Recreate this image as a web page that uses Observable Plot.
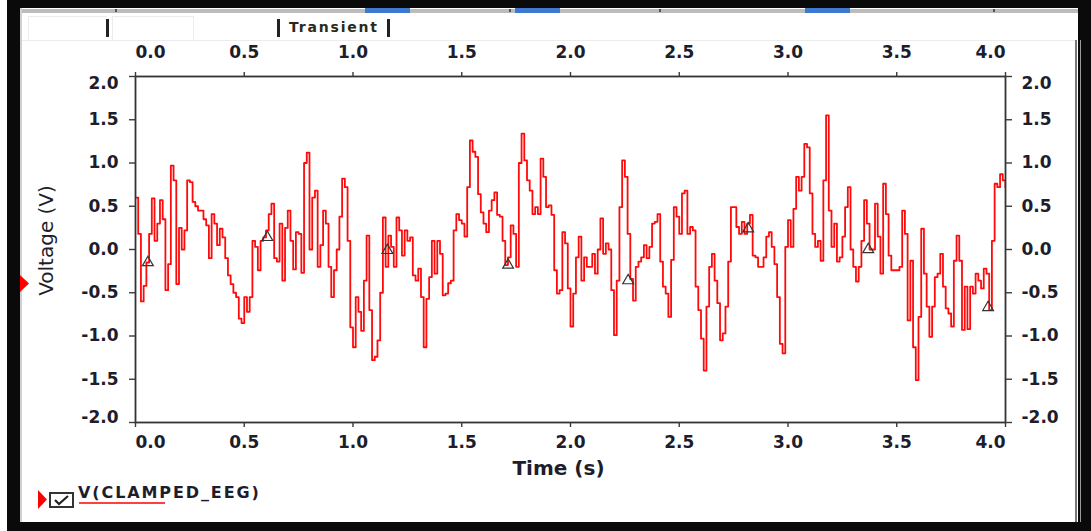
<!DOCTYPE html>
<html>
<head>
<meta charset="utf-8">
<script src="https://cdn.jsdelivr.net/npm/d3@7"></script>
<script src="https://cdn.jsdelivr.net/npm/@observablehq/plot@0.6"></script>
<style>
  html, body { margin: 0; padding: 0; background: #fff; }
  #wrap { position: relative; width: 1091px; height: 531px; overflow: hidden; background: #fff; font-family: "DejaVu Sans", sans-serif; }
  #wrap > svg.plot { position: absolute; left: 0; top: 0; }
  .abs { position: absolute; }
</style>
</head>
<body>
<div id="wrap"></div>
<script>
// ---------------- data ----------------
const sampleStep = 0.0125; // seconds between samples (uniform grid)
const voltage = [
  0.60, 0.18, -0.60, -0.42, -0.15, 0.18, 0.59, 0.10, 0.30, 0.57,
  0.35, -0.47, -0.17, 0.97, 0.80, -0.40, 0.25, 0.00, 0.22, 0.80,
  0.78, 0.55, 0.50, 0.45, 0.45, 0.35, 0.28, -0.10, 0.41, 0.30,
  0.05, 0.24, 0.14, -0.10, -0.30, -0.40, -0.50, -0.55, -0.80, -0.85,
  -0.55, -0.72, -0.55, 0.10, 0.03, -0.24, 0.10, 0.14, 0.22, 0.41,
  0.53, -0.10, -0.14, 0.30, -0.36, 0.25, 0.45, 0.10, -0.23, 0.20,
  0.18, -0.27, 1.00, 1.12, 0.00, 0.60, 0.68, -0.20, 0.05, 0.45,
  0.30, -0.20, -0.55, -0.24, 0.00, 0.38, 0.82, 0.72, 0.10, -0.90,
  -1.13, -0.55, -0.72, -0.94, -0.36, 0.16, -0.70, -1.28, -1.24, -1.05,
  -0.50, 0.37, -0.20, 0.16, 0.03, -0.20, 0.37, 0.22, -0.07, 0.22,
  0.10, 0.14, -0.30, -0.36, -0.22, -0.55, -1.13, -0.57, -0.32, 0.10,
  -0.28, 0.10, -0.05, -0.53, -0.51, -0.39, -0.36, 0.22, 0.41, 0.34,
  0.30, 0.15, 0.72, 1.26, 1.13, 1.07, 0.64, 0.43, 0.30, 0.20,
  0.45, 0.57, 0.66, 0.40, 0.38, 0.10, -0.18, -0.09, 0.28, 0.18,
  -0.20, 1.00, 1.34, 1.03, 0.80, 0.68, 0.41, 0.49, 0.41, 1.05,
  0.84, 0.49, 0.51, 0.40, -0.24, -0.51, -0.47, 0.20, 0.07, -0.45,
  -0.89, -0.51, -0.09, 0.15, -0.36, -0.09, -0.20, -0.20, -0.05, -0.28,
  0.00, 0.36, -0.05, 0.07, 0.00, -0.47, -0.99, -0.36, 0.49, 1.03,
  0.84, 0.18, -0.34, -0.59, -0.20, -0.14, -0.09, 0.05, -0.10, 0.03,
  0.30, 0.32, 0.41, -0.14, -0.43, -0.51, -0.78, -0.12, 0.49, 0.38,
  0.18, 0.65, 0.68, 0.18, 0.26, 0.22, -0.43, -0.70, -1.03, -1.40,
  -0.66, -0.20, -0.05, -0.36, -0.62, -1.05, -0.97, -0.66, -0.14, 0.49,
  0.49, 0.26, 0.18, 0.32, 0.18, 0.30, 0.40, -0.07, -0.09, -0.20,
  -0.20, -0.09, 0.15, 0.20, 0.03, -0.17, -0.55, -1.09, -1.20, 0.03,
  0.34, 0.03, 0.47, 0.84, 0.68, 0.84, 1.22, 1.18, 0.65, 0.18,
  0.03, 0.10, -0.13, 0.80, 1.55, 0.45, 0.03, 0.30, -0.14, -0.09,
  0.15, 0.49, 0.72, 0.00, -0.20, -0.37, -0.20, 0.10, 0.57, 0.30,
  0.00, 0.00, 0.53, 0.15, -0.28, 0.76, 0.41, -0.07, -0.24, -0.24,
  -0.24, -0.20, 0.45, 0.18, -0.82, -0.13, -1.13, -1.51, -0.78, 0.24,
  -0.28, -0.66, -1.01, -0.66, -0.32, -0.28, -0.05, -0.43, -0.68, -0.74,
  -0.89, -0.13, 0.16, -0.13, -0.93, -0.43, -0.92, -0.43, -0.51, -0.28,
  -0.36, -0.45, -0.22, -0.28, -0.70, 0.10, 0.76, 0.72, 0.87, 0.80,
  0.72
];
const markerTime    = [0.057, 0.606, 1.158, 1.713, 2.265, 2.817, 3.369, 3.920];
const markerVoltage = [-0.15, 0.14, -0.01, -0.18, -0.36, 0.24, 0.00, -0.67];
const xTicks = [0, 0.5, 1.0, 1.5, 2.0, 2.5, 3.0, 3.5, 4.0];
const yTicks = [-2.0, -1.5, -1.0, -0.5, 0.0, 0.5, 1.0, 1.5, 2.0];
const xLabel = "Time (s)";
const yLabel = "Voltage (V)";
const legendLabel = "V(CLAMPED_EEG)";
const tabLabels = ["", "", "Transient"];

// ---------------- chart ----------------
const samples = voltage.map((v, i) => ({t: i * sampleStep, v}));
const markers = markerTime.map((t, i) => ({t, v: markerVoltage[i]}));
const fmt = d => d.toFixed(1);
const font = "DejaVu Sans, sans-serif";
const tickText = {fontSize: 17, fontWeight: "bold", fill: "#1d1d2b", stroke: "#3a3a3a", strokeWidth: 1.4, label: null, tickFormat: fmt, fontFamily: font};
const xInner = xTicks.slice(1, -1);
const yInner = yTicks.slice(1, -1);
const xEnds = [xTicks[0], xTicks[xTicks.length - 1]];

const chart = Plot.plot({
  width: 1091,
  height: 531,
  marginLeft: 135,
  marginRight: 86,
  marginTop: 76,
  marginBottom: 109,
  x: {domain: [xTicks[0], xTicks[xTicks.length - 1]]},
  y: {domain: [yTicks[0], yTicks[yTicks.length - 1]]},
  style: {background: "transparent", fontFamily: font, overflow: "visible"},
  marks: [
    Plot.line(samples, {x: "t", y: "v", curve: "step-after", stroke: "#ff0a0a", strokeWidth: 1.8, clip: true}),
    Plot.dot(markers, {x: "t", y: "v", symbol: "triangle", r: 4, stroke: "#333", strokeWidth: 1.2, fill: "none"}),
    Plot.frame({stroke: "#333", strokeWidth: 1.8}),
    // bottom axis
    Plot.axisX({...tickText, anchor: "bottom", ticks: xInner, tickSize: 5, tickPadding: 8}),
    Plot.axisX({...tickText, anchor: "bottom", ticks: [xEnds[0]], tickSize: 5, tickPadding: 8, textAnchor: "start"}),
    Plot.axisX({...tickText, anchor: "bottom", ticks: [xEnds[1]], tickSize: 5, tickPadding: 8, textAnchor: "end"}),
    // top axis
    Plot.axisX({...tickText, anchor: "top", ticks: xInner, tickSize: 5, tickPadding: 14}),
    Plot.axisX({...tickText, anchor: "top", ticks: [xEnds[0]], tickSize: 5, tickPadding: 14, textAnchor: "start"}),
    Plot.axisX({...tickText, anchor: "top", ticks: [xEnds[1]], tickSize: 5, tickPadding: 14, textAnchor: "end"}),
    // left axis
    Plot.axisY({...tickText, anchor: "left", ticks: yInner, tickSize: 6, tickPadding: 11}),
    Plot.axisY({...tickText, anchor: "left", ticks: [yTicks[yTicks.length - 1]], tickSize: 6, tickPadding: 11, lineAnchor: "top"}),
    Plot.axisY({...tickText, anchor: "left", ticks: [yTicks[0]], tickSize: 6, tickPadding: 11, lineAnchor: "bottom"}),
    // right axis
    Plot.axisY({...tickText, anchor: "right", ticks: yInner, tickSize: 6, tickPadding: 10}),
    Plot.axisY({...tickText, anchor: "right", ticks: [yTicks[yTicks.length - 1]], tickSize: 6, tickPadding: 10, lineAnchor: "top"}),
    Plot.axisY({...tickText, anchor: "right", ticks: [yTicks[0]], tickSize: 6, tickPadding: 10, lineAnchor: "bottom"}),
    // axis titles
    Plot.text([xLabel], {frameAnchor: "bottom", textAnchor: "middle", lineAnchor: "middle", dx: -12, dy: 46, fontSize: 20, fontWeight: "bold", fill: "#1d1d2b", fontFamily: font}),
    Plot.text([yLabel], {frameAnchor: "left", textAnchor: "middle", lineAnchor: "middle", dx: -89, dy: -9, rotate: -90, fontSize: 20, fill: "#1d1d2b", fontFamily: font})
  ]
});
chart.classList.add("plot");
chart.querySelectorAll("g[aria-label$='tick label'] text, g[aria-label$='tick label']").forEach(el => { el.setAttribute("stroke", "none"); });

const wrap = document.getElementById("wrap");
wrap.appendChild(chart);

// ---------------- window chrome (decor) ----------------
function box(css, html) {
  const d = document.createElement("div");
  d.className = "abs";
  d.style.cssText = css;
  if (html) d.innerHTML = html;
  wrap.appendChild(d);
  return d;
}
// top strip and tabs
box("left:20px;top:9px;width:1058px;height:4px;background:#bcbcbc;");
[[365,45],[515,45],[805,45]].forEach(([l,w]) => box(`left:${l}px;top:8px;width:${w}px;height:5px;background:#3f78d0;`));
[115, 509, 659, 993].forEach(l => box(`left:${l}px;top:9px;width:2px;height:3px;background:#555;`));
box("left:20px;top:40px;width:1055px;height:1px;background:#ececec;");
box("left:28px;top:16px;width:78px;height:23px;border:1px solid #ececec;border-right:none;");
box("left:112px;top:16px;width:80px;height:23px;border:1px solid #ececec;");
[106, 277, 387].forEach(l => box(`left:${l}px;top:19px;width:3px;height:18px;background:#222;`));
box("left:289px;top:19px;font:bold 14px 'DejaVu Sans',sans-serif;letter-spacing:1.8px;color:#2a2a1a;white-space:nowrap;", tabLabels[2]);
// frame
box("left:7px;top:0;width:1084px;height:8px;background:#0a0a0a;");
box("left:7px;top:0;width:13px;height:531px;background:#0a0a0a;");
box("left:20px;top:8px;width:2px;height:514px;background:#d0d0d0;");
box("left:7px;top:522px;width:1084px;height:9px;background:#0a0a0a;");
box("left:1075px;top:40px;width:2px;height:482px;background:#777;");
box("left:1078px;top:0;width:13px;height:531px;background:#0a0a0a;");
box("left:1080px;top:40px;width:1px;height:482px;background:#9a9a9a;");
// left selection arrow
box("left:20px;top:275px;width:10px;height:17px;",
  "<svg width='10' height='17'><path d='M0,0 L9,8.5 L0,17 Z' fill='#ff0000'/></svg>");
// legend
box("left:38px;top:490px;width:10px;height:19px;",
  "<svg width='10' height='19'><path d='M0,0 L9,9.5 L0,19 Z' fill='#ff0000'/></svg>");
box("left:49px;top:492px;width:25px;height:16px;",
  "<svg width='25' height='16'><rect x='1' y='1' width='23' height='14' fill='#fff' stroke='#333' stroke-width='2'/><path d='M6,8 L10,12 L19,4' fill='none' stroke='#222' stroke-width='2.2'/></svg>");
box("left:78px;top:483px;font:bold 16px 'DejaVu Sans',sans-serif;letter-spacing:1.9px;color:#1d1d2b;white-space:nowrap;", legendLabel);
box("left:79px;top:502px;width:86px;height:2px;background:#ff4040;");
</script>
</body>
</html>
